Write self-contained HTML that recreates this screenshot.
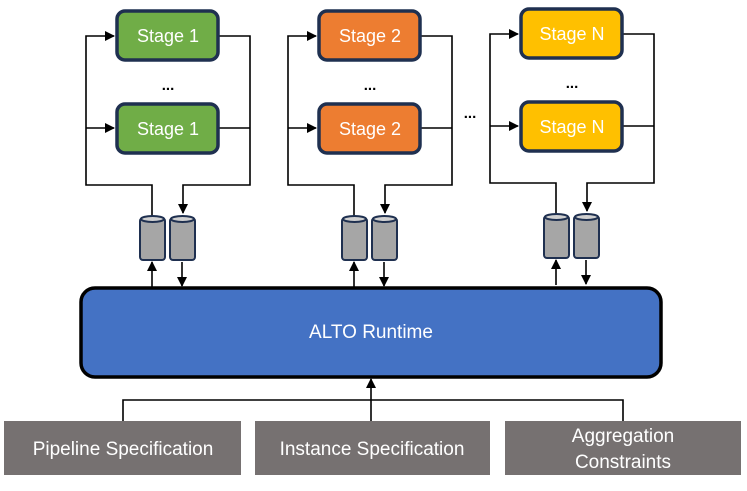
<!DOCTYPE html>
<html><head><meta charset="utf-8"><style>
html,body{margin:0;padding:0;background:#fff}
svg text{font-family:"Liberation Sans",sans-serif;fill:#fff}
</style></head><body>
<svg width="747" height="486" viewBox="0 0 747 486" xmlns="http://www.w3.org/2000/svg">
<defs>
<marker id="a" markerWidth="10" markerHeight="10" refX="9" refY="5" orient="auto" markerUnits="userSpaceOnUse" viewBox="0 0 10 10"><path d="M0,0 L10,5 L0,10 z" fill="#000"/></marker>
<g id="cyl">
<rect x="0" y="3" width="25" height="42" rx="3" fill="#a6a6a6" stroke="#1f3050" stroke-width="2"/>
<ellipse cx="12.5" cy="4" rx="11.5" ry="3" fill="#d0d0d0" stroke="#1f3050" stroke-width="2"/>
</g>
<g id="st" fill="none" stroke="#000" stroke-width="1.6">
<path d="M152 216 V185 H86 V36 H114" marker-end="url(#a)"/>
<path d="M86 128 H114" marker-end="url(#a)"/>
<path d="M219 36 H250 V185 H183 V213" marker-end="url(#a)"/>
<path d="M219 128 H250"/>
<path d="M152 287 V262" marker-end="url(#a)"/>
<path d="M182 262 V286" marker-end="url(#a)"/>
<use href="#cyl" x="140" y="215" stroke="none"/>
<use href="#cyl" x="170" y="215" stroke="none"/>
</g>
</defs>
<use href="#st"/>
<use href="#st" x="202"/>
<use href="#st" x="404" y="-2"/>
<g stroke="#1f3050" stroke-width="3.5">
<rect x="117" y="11" width="101" height="49" rx="8" fill="#70ad47"/>
<rect x="117" y="104" width="101" height="49" rx="8" fill="#70ad47"/>
<rect x="319" y="11" width="101" height="49" rx="8" fill="#ed7d31"/>
<rect x="319" y="104" width="101" height="49" rx="8" fill="#ed7d31"/>
<rect x="521" y="9" width="101" height="49" rx="8" fill="#ffc000"/>
<rect x="521" y="102" width="101" height="49" rx="8" fill="#ffc000"/>
</g>
<g font-size="18" text-anchor="middle">
<text x="168" y="42">Stage 1</text><text x="168" y="135">Stage 1</text>
<text x="370" y="42">Stage 2</text><text x="370" y="135">Stage 2</text>
<text x="572" y="40">Stage N</text><text x="572" y="133">Stage N</text>
</g>
<g font-size="15" font-weight="bold" text-anchor="middle">
<text x="168" y="90" style="fill:#000">...</text>
<text x="370" y="90" style="fill:#000">...</text>
<text x="572" y="88" style="fill:#000">...</text>
<text x="470" y="118" style="fill:#000">...</text>
</g>
<rect x="81" y="288" width="580" height="89" rx="14" fill="#4472c4" stroke="#000" stroke-width="3.5"/>
<text x="371" y="338" font-size="19" text-anchor="middle">ALTO Runtime</text>
<g fill="none" stroke="#000" stroke-width="1.6">
<path d="M123 421 V400 H623 V421"/>
<path d="M371 421 V379" marker-end="url(#a)"/>
</g>
<g fill="#767171">
<rect x="4" y="421" width="237" height="54"/>
<rect x="255" y="421" width="235" height="54"/>
<rect x="505" y="421" width="236" height="54"/>
</g>
<g font-size="19" text-anchor="middle">
<text x="123" y="455">Pipeline Specification</text>
<text x="372" y="455">Instance Specification</text>
<text x="623" y="442">Aggregation</text>
<text x="623" y="468">Constraints</text>
</g>
</svg>
</body></html>
